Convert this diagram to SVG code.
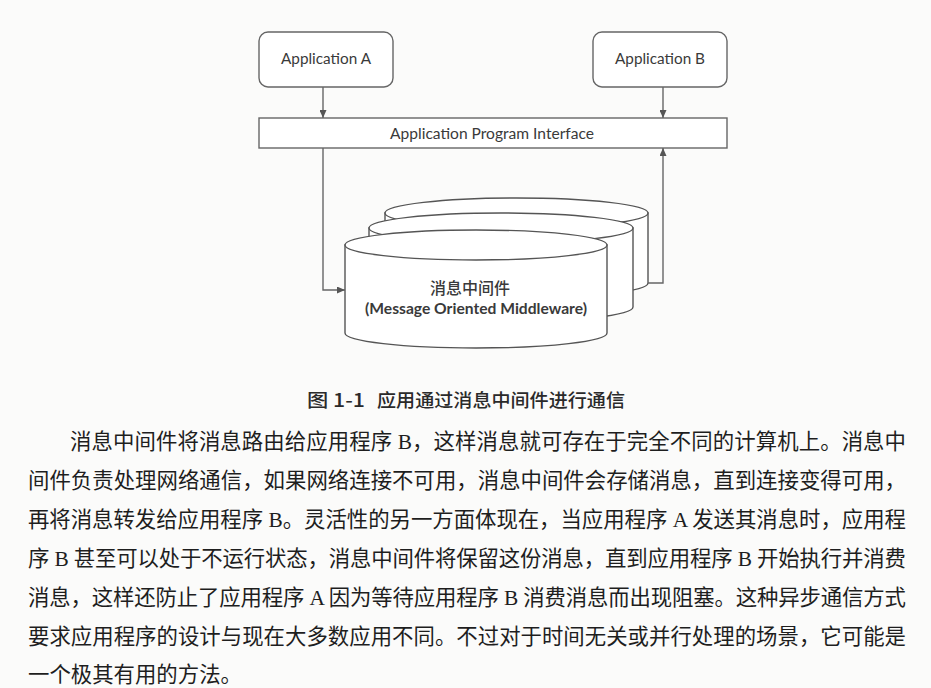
<svg xmlns="http://www.w3.org/2000/svg" width="931" height="688" viewBox="0 0 931 688">
<defs>
<marker id="ah" markerWidth="8" markerHeight="7" refX="8" refY="3.5" orient="auto" markerUnits="userSpaceOnUse">
<path d="M0,0 L8,3.5 L0,7 z" fill="#555"/>
</marker>
<style>
.box{fill:#fff;stroke:#666;stroke-width:1.4}
.cyl{fill:#fff;stroke:#555;stroke-width:1.4}
.con{fill:none;stroke:#666;stroke-width:1.4}
.lbl{font-family:"Lato","Open Sans",sans-serif;font-size:14.5px;fill:#3a3a3a;text-anchor:middle}
.cjk{font-family:"Noto Sans CJK SC",sans-serif;font-size:16px;font-weight:500;fill:#3a3a3a;text-anchor:middle}
.cap{font-family:"Noto Sans CJK SC",sans-serif;font-size:18.5px;font-weight:500;fill:#2a2a2a}
.body{font-family:"Liberation Serif","Noto Sans CJK SC",serif;font-size:21.4px;fill:#1e1e1e}
</style>
</defs>
<rect width="931" height="688" fill="#fbfbfa"/>

<g id="app-a">
<rect class="box" x="259" y="32" width="134" height="55" rx="9"/>
<text class="lbl" x="326" y="64" textLength="90" lengthAdjust="spacingAndGlyphs">Application A</text>
</g>
<g id="app-b">
<rect class="box" x="593" y="32" width="134" height="55" rx="9"/>
<text class="lbl" x="660" y="64" textLength="90" lengthAdjust="spacingAndGlyphs">Application B</text>
</g>
<g id="api">
<rect class="box" x="259" y="118" width="468" height="30"/>
<text class="lbl" x="492" y="139" textLength="204" lengthAdjust="spacingAndGlyphs">Application Program Interface</text>
</g>

<g id="mom">
<path class="cyl" d="M385,213 L385,283 A131.5,15 0 0 0 648,283 L648,213 Z"/>
<ellipse class="cyl" cx="516.5" cy="213" rx="131.5" ry="15"/>
<path class="cyl" d="M369,228 L369,307 A132,15 0 0 0 633,307 L633,228 Z"/>
<ellipse class="cyl" cx="501" cy="228" rx="132" ry="15"/>
<path class="cyl" d="M345,245 L345,333 A131,15 0 0 0 607,333 L607,245 Z"/>
<ellipse class="cyl" cx="476" cy="245" rx="131" ry="15"/>
<text class="cjk" x="470" y="294">消息中间件</text>
<text class="lbl" x="476" y="314" style="font-size:15.5px;font-weight:bold" textLength="222" lengthAdjust="spacingAndGlyphs">(Message Oriented Middleware)</text>
</g>

<g id="connectors">
<line class="con" x1="323" y1="87" x2="323" y2="118" marker-end="url(#ah)"/>
<line class="con" x1="663" y1="87" x2="663" y2="118" marker-end="url(#ah)"/>
<polyline class="con" points="323,148 323,290 345,290" marker-end="url(#ah)"/>
<polyline class="con" points="648,283 663,283 663,148" marker-end="url(#ah)"/>
</g>

<g id="caption">
<text class="cap" x="307" y="407" textLength="58" lengthAdjust="spacingAndGlyphs">图 1-1</text>
<text class="cap" x="377" y="407" textLength="248" lengthAdjust="spacingAndGlyphs">应用通过消息中间件进行通信</text>
</g>

<g id="body-text">
<text class="body" x="70" y="449" textLength="836" lengthAdjust="spacing">消息中间件将消息路由给应用程序 B，这样消息就可存在于完全不同的计算机上。消息中</text>
<text class="body" x="28" y="488" textLength="878" lengthAdjust="spacing">间件负责处理网络通信，如果网络连接不可用，消息中间件会存储消息，直到连接变得可用，</text>
<text class="body" x="28" y="527" textLength="878" lengthAdjust="spacing">再将消息转发给应用程序 B。灵活性的另一方面体现在，当应用程序 A 发送其消息时，应用程</text>
<text class="body" x="28" y="566" textLength="878" lengthAdjust="spacing">序 B 甚至可以处于不运行状态，消息中间件将保留这份消息，直到应用程序 B 开始执行并消费</text>
<text class="body" x="28" y="605" textLength="878" lengthAdjust="spacing">消息，这样还防止了应用程序 A 因为等待应用程序 B 消费消息而出现阻塞。这种异步通信方式</text>
<text class="body" x="28" y="644" textLength="878" lengthAdjust="spacing">要求应用程序的设计与现在大多数应用不同。不过对于时间无关或并行处理的场景，它可能是</text>
<text class="body" x="28" y="682">一个极其有用的方法。</text>
</g>
</svg>
